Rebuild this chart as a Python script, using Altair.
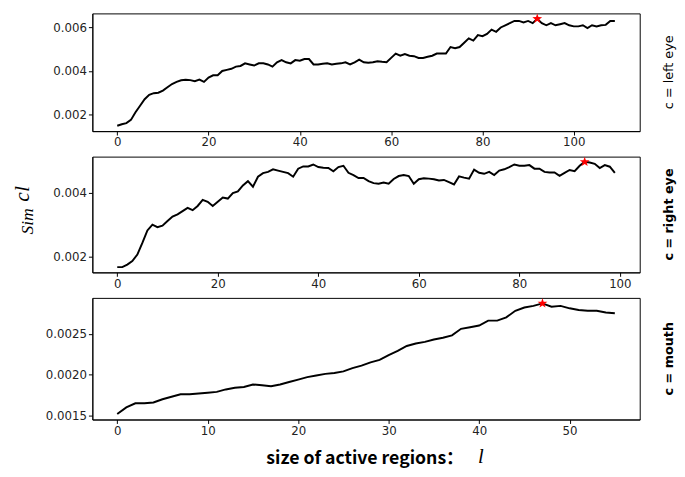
import altair as alt
import pandas as pd
import numpy as np

# ---- data ----
left_eye = [0.00148, 0.00155, 0.00160, 0.00175, 0.00210, 0.00240, 0.00270, 0.00290, 0.00298, 0.00300,
            0.00310, 0.00325, 0.00340, 0.00350, 0.00357, 0.00360, 0.00358, 0.00353, 0.00360, 0.00350,
            0.00370, 0.00380, 0.00380, 0.00400, 0.00405, 0.00410, 0.00420, 0.00423, 0.00435, 0.00430,
            0.00425, 0.00435, 0.00435, 0.00430, 0.00420, 0.00440, 0.00450, 0.00440, 0.00435, 0.00450,
            0.00447, 0.00455, 0.00455, 0.00430, 0.00430, 0.00433, 0.00435, 0.00430, 0.00433, 0.00435,
            0.00440, 0.00430, 0.00440, 0.00452, 0.00440, 0.00438, 0.00440, 0.00445, 0.00442, 0.00440,
            0.00460, 0.00480, 0.00470, 0.00478, 0.00470, 0.00468, 0.00460, 0.00460, 0.00465, 0.00470,
            0.00480, 0.00480, 0.00480, 0.00510, 0.00505, 0.00510, 0.00530, 0.00550, 0.00540, 0.00565,
            0.00560, 0.00570, 0.00590, 0.00580, 0.00600, 0.00610, 0.00620, 0.00630, 0.00630, 0.00623,
            0.00630, 0.00620, 0.00640, 0.00620, 0.00610, 0.00620, 0.00610, 0.00615, 0.00620, 0.00610,
            0.00605, 0.00605, 0.00610, 0.00597, 0.00610, 0.00605, 0.00610, 0.00612, 0.00630, 0.00630]

right_eye = [0.00168, 0.00168, 0.00176, 0.00187, 0.00207, 0.00243, 0.00282, 0.00300, 0.00292, 0.00297,
             0.00311, 0.00325, 0.00332, 0.00342, 0.00352, 0.00345, 0.00358, 0.00377, 0.00371, 0.00358,
             0.00371, 0.00384, 0.00381, 0.00398, 0.00403, 0.00422, 0.00435, 0.00418, 0.00449, 0.00460,
             0.00464, 0.00472, 0.00468, 0.00464, 0.00460, 0.00449, 0.00474, 0.00481, 0.00481, 0.00487,
             0.00479, 0.00477, 0.00476, 0.00466, 0.00479, 0.00483, 0.00461, 0.00454, 0.00445, 0.00445,
             0.00435, 0.00429, 0.00427, 0.00431, 0.00427, 0.00442, 0.00451, 0.00454, 0.00451, 0.00427,
             0.00441, 0.00444, 0.00443, 0.00441, 0.00437, 0.00439, 0.00432, 0.00425, 0.00450, 0.00446,
             0.00443, 0.00471, 0.00461, 0.00458, 0.00464, 0.00454, 0.00468, 0.00472, 0.00479, 0.00487,
             0.00483, 0.00483, 0.00485, 0.00474, 0.00474, 0.00464, 0.00462, 0.00462, 0.00452, 0.00461,
             0.00470, 0.00466, 0.00483, 0.00495, 0.00493, 0.00489, 0.00476, 0.00485, 0.00480, 0.00461]

mouth = [0.00152, 0.00160, 0.00165, 0.00165, 0.00166, 0.00170, 0.00173, 0.00176, 0.00176, 0.00177,
         0.00178, 0.00179, 0.00182, 0.00184, 0.00185, 0.00188, 0.00187, 0.00186, 0.00188, 0.00191,
         0.00194, 0.00197, 0.00199, 0.00201, 0.00202, 0.00204, 0.00208, 0.00211, 0.00215, 0.00218,
         0.00224, 0.00229, 0.00235, 0.00238, 0.00240, 0.00243, 0.00245, 0.00248, 0.00256, 0.00258,
         0.00260, 0.00266, 0.00266, 0.00270, 0.00278, 0.00282, 0.00284, 0.00287, 0.00283, 0.00284,
         0.00281, 0.00279, 0.00278, 0.00278, 0.00276, 0.00275]

labels = ["c = left eye", "c = right eye", "c = mouth"]
x_ticks = [[0, 20, 40, 60, 80, 100], [0, 20, 40, 60, 80, 100], [0, 10, 20, 30, 40, 50]]
y_ticks = [[0.002, 0.004, 0.006], [0.002, 0.004], [0.0015, 0.0020, 0.0025]]
y_formats = [".3f", ".3f", ".4f"]

W = 558
heights = [120, 118, 124]
STAR = ("M0,-1 L0.235,-0.324 L0.951,-0.309 L0.380,0.124 L0.588,0.809 L0,0.4 "
        "L-0.588,0.809 L-0.380,0.124 L-0.951,-0.309 L-0.235,-0.324 Z")

AX = dict(title=None, grid=False, domain=True, domainColor="black", tickColor="black", tickSize=4,
          labelFont="DejaVu Sans", labelFontSize=12, labelColor="#222", labelPadding=2)


def margins(lo, hi, frac=0.05):
    r = hi - lo
    return [lo - r * frac, hi + r * frac]


def panel(series, label, xt, yt, yf, h, weight, extra=None):
    n = len(series)
    df = pd.DataFrame({"x": np.arange(n), "y": series})
    i = int(np.argmax(series))
    best = pd.DataFrame({"x": [i], "y": [series[i]]})
    xs = alt.Scale(domain=margins(0, n - 1), nice=False, zero=False)
    ys = alt.Scale(domain=margins(min(series), max(series)), nice=False, zero=False)
    line = alt.Chart(df).mark_line(color="black", strokeWidth=2).encode(
        x=alt.X("x:Q", scale=xs, axis=alt.Axis(values=xt, format="d", **AX)),
        y=alt.Y("y:Q", scale=ys, axis=alt.Axis(values=yt, format=yf, **AX)),
    )
    star = alt.Chart(best).mark_point(shape=STAR, filled=True, color="red", size=110, opacity=1).encode(
        x=alt.X("x:Q", scale=xs), y=alt.Y("y:Q", scale=ys)
    )
    side = alt.Chart(pd.DataFrame({"t": [label]})).mark_text(
        angle=270, fontSize=13, fontWeight=weight, font="DejaVu Sans", color="black",
        align="center", baseline="middle"
    ).encode(text="t:N", x=alt.value(W + 30), y=alt.value(h / 2))
    layers = [line, star, side]
    if extra:
        layers += extra
    return alt.layer(*layers).properties(width=W, height=h)


ylab = [
    alt.Chart(pd.DataFrame({"t": ["cl"]})).mark_text(
        angle=270, fontSize=22, font="Liberation Serif", fontStyle="italic", color="black",
        align="center", baseline="middle").encode(text="t:N", x=alt.value(-72), y=alt.value(38)),
    alt.Chart(pd.DataFrame({"t": ["Sim"]})).mark_text(
        angle=270, fontSize=18, font="Liberation Serif", fontStyle="italic", color="black",
        align="center", baseline="middle").encode(text="t:N", x=alt.value(-66), y=alt.value(66)),
]
xlab = [
    alt.Chart(pd.DataFrame({"t": ["size of active regions："]})).mark_text(
        fontSize=18, font="Noto Sans CJK SC", fontWeight="bold", color="black",
        align="center", baseline="middle").encode(text="t:N", x=alt.value(278), y=alt.value(164)),
    alt.Chart(pd.DataFrame({"t": ["l"]})).mark_text(
        fontSize=21, font="Liberation Serif", fontStyle="italic", color="black",
        align="center", baseline="middle").encode(text="t:N", x=alt.value(396), y=alt.value(162)),
]

p1 = panel(left_eye, labels[0], x_ticks[0], y_ticks[0], y_formats[0], heights[0], "normal")
p2 = panel(right_eye, labels[1], x_ticks[1], y_ticks[1], y_formats[1], heights[1], "bold", ylab)
p3 = panel(mouth, labels[2], x_ticks[2], y_ticks[2], y_formats[2], heights[2], "bold", xlab)

chart = alt.vconcat(p1, p2, p3, spacing=7).properties(
    padding={"left": 2, "top": 0, "right": 0, "bottom": 0}, background="white"
).configure_view(stroke="black", strokeWidth=1)

chart.save("out.html", embed_options={"renderer": "svg", "actions": False})
